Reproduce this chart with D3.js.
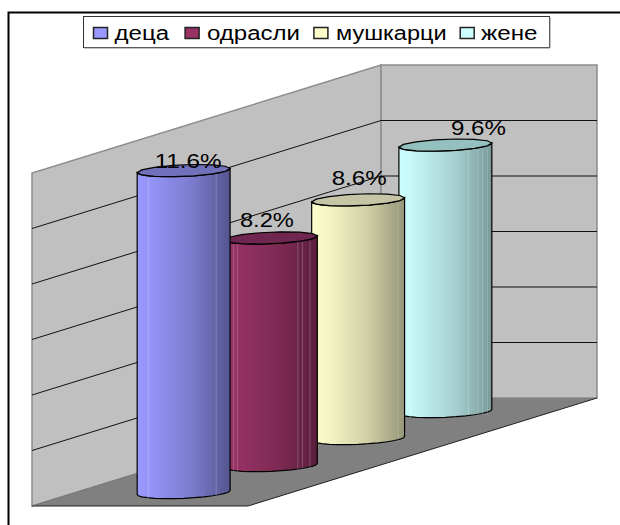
<!DOCTYPE html>
<html><head><meta charset="utf-8">
<script src="https://cdn.jsdelivr.net/npm/d3@7"></script>
<style>html,body{margin:0;padding:0;background:#fff}svg{display:block}text{font-family:"Liberation Sans",Arial,sans-serif;fill:#000}</style>
</head><body><div id="c"></div>
<script>
const categories = ["деца","одрасли","мушкарци","жене"];
const values = [11.6,8.2,8.6,9.6];
const labels = ["11.6%","8.2%","8.6%","9.6%"];
const gridTicks = [0,2,4,6,8,10,12];

const colors = ["#9999ff","#993366","#ffffcc","#ccffff"];
const darks = ["#55558f","#5a1e3c","#96967a","#7a9999"];
const tops = ["#7070bb","#6f2650","#c6c6a6","#94c0c0"];
const legendX = [[93,114.6,54.5],[184.6,207,93],[313.4,336,110.6],[459.7,481,56.5]];
const labelW = [67,54,55,55];
const labelDx = [4.5,-4,1,33];
const labelDy = [-3,-11,-15,-10];
const facets = [[-.76,.7],[-.8,-.72,.58,.68,.84],[-.9,.86],[-.75,.5,.7,.8,.9]];

const W=620,H=525;
const svg=d3.select("#c").append("svg").attr("width",W).attr("height",H);
const defs=svg.append("defs");

svg.append("path").attr("d",`M8.5 ${H}V12.5H${W}`).attr("fill","none").attr("stroke","#000").attr("stroke-width",2);

// oblique projection: x across the floor, depth back into the chart, y is the value axis
const x=d3.scaleLinear().domain([0,1]).range([32,248]);
const depth=d3.scaleBand().domain(categories).range([0,1]);
const dz={x:349,y:-108};
const y=d3.scaleLinear().domain([0,12]).range([506,173]);
const proj=(u,d,v)=>[x(u)+d*dz.x, y(v)+d*dz.y];
const line=d3.line();

// walls and floor
const wallStroke="#8c8c8c";
svg.append("path").attr("d",line([proj(0,0,0),proj(0,1,0),proj(0,1,12),proj(0,0,12)])+"Z").attr("fill","#c0c0c0").attr("stroke",wallStroke).attr("stroke-width",1.5);
svg.append("path").attr("d",line([proj(0,1,0),proj(1,1,0),proj(1,1,12),proj(0,1,12)])+"Z").attr("fill","#c0c0c0").attr("stroke",wallStroke).attr("stroke-width",1.5);
svg.append("path").attr("d",line([proj(0,0,0),proj(1,0,0),proj(1,1,0),proj(0,1,0)])+"Z").attr("fill","#808080");
svg.append("path").attr("d",line([proj(0,0,0),proj(1,0,0),proj(1,1,0)])).attr("fill","none").attr("stroke","#222").attr("stroke-width",1);
svg.append("path").attr("d",line([proj(0,0,0),proj(0,1,0)])).attr("fill","none").attr("stroke","#666").attr("stroke-width",1).attr("stroke-dasharray","1 1");

// grid
gridTicks.filter(t=>t>0&&t<12).forEach(t=>{
  svg.append("path").attr("d",line([proj(0,0,t),proj(0,1,t),proj(1,1,t)])).attr("fill","none").attr("stroke","#111").attr("stroke-width",1);
});

// cylinders, drawn from back to front
const rx=46.5, ry=5.8, tilt=-2.5*Math.PI/180, steps=14;
const ell=(cx,cy,a0,a1)=>d3.range(0,steps+1).map(i=>{
  const a=a0+(a1-a0)*i/steps, px=rx*Math.cos(a), py=ry*Math.sin(a);
  return [cx+px*Math.cos(tilt)-py*Math.sin(tilt), cy+px*Math.sin(tilt)+py*Math.cos(tilt)];
});
categories.forEach((c,i)=>{
  const g=defs.append("linearGradient").attr("id","g"+i);
  g.append("stop").attr("offset",0).attr("stop-color",colors[i]);
  g.append("stop").attr("offset",.15).attr("stop-color",d3.interpolateRgb(colors[i],darks[i])(.08));
  g.append("stop").attr("offset",.6).attr("stop-color",d3.interpolateRgb(colors[i],darks[i])(.45));
  g.append("stop").attr("offset",1).attr("stop-color",darks[i]);
});
d3.range(categories.length-1,-1,-1).forEach(i=>{
  const d=depth(categories[i])+depth.bandwidth()/2;
  const [bx,by]=proj(.5,d,0), [tx,ty]=proj(.5,d,values[i]);
  const gg=svg.append("g");
  gg.append("path").attr("d",line(ell(bx,by,0,Math.PI).concat(ell(tx,ty,Math.PI,0)))+"Z")
    .attr("fill",`url(#g${i})`).attr("stroke","#000").attr("stroke-width",1.2);
  facets[i].forEach(f=>{
    const fx=bx+f*rx;
    gg.append("path").attr("d",line([[fx,ty+5-f*2],[fx,by+5-f*2]])).attr("stroke","#fff").attr("stroke-opacity",.2).attr("fill","none");
  });
  gg.append("path").attr("d",line(ell(tx,ty,0,2*Math.PI))+"Z").attr("fill",tops[i]).attr("stroke","#000").attr("stroke-width",1.2);
});

// data labels
categories.forEach((c,i)=>{
  const d=depth(c)+depth.bandwidth()/2;
  const [tx,ty]=proj(.5,d,values[i]);
  svg.append("text").attr("x",tx+labelDx[i]).attr("y",ty+labelDy[i]).attr("text-anchor","middle")
    .attr("font-size",20).attr("textLength",labelW[i]).attr("lengthAdjust","spacingAndGlyphs").text(labels[i]);
});

// legend
svg.append("rect").attr("x",83.5).attr("y",16.5).attr("width",466).attr("height",31).attr("fill","#fff").attr("stroke","#333").attr("stroke-width",1);
svg.append("path").attr("d","M84 48H550V17").attr("fill","none").attr("stroke","#888").attr("stroke-width",1);
categories.forEach((c,i)=>{
  const [sx,tx,tw]=legendX[i];
  svg.append("rect").attr("x",sx+.5).attr("y",27.5).attr("width",14).attr("height",11).attr("fill",colors[i]).attr("stroke","#222").attr("stroke-width",1.5);
  svg.append("text").attr("x",tx).attr("y",39.5).attr("font-size",20).attr("textLength",tw).attr("lengthAdjust","spacingAndGlyphs").text(c);
});
</script></body></html>
